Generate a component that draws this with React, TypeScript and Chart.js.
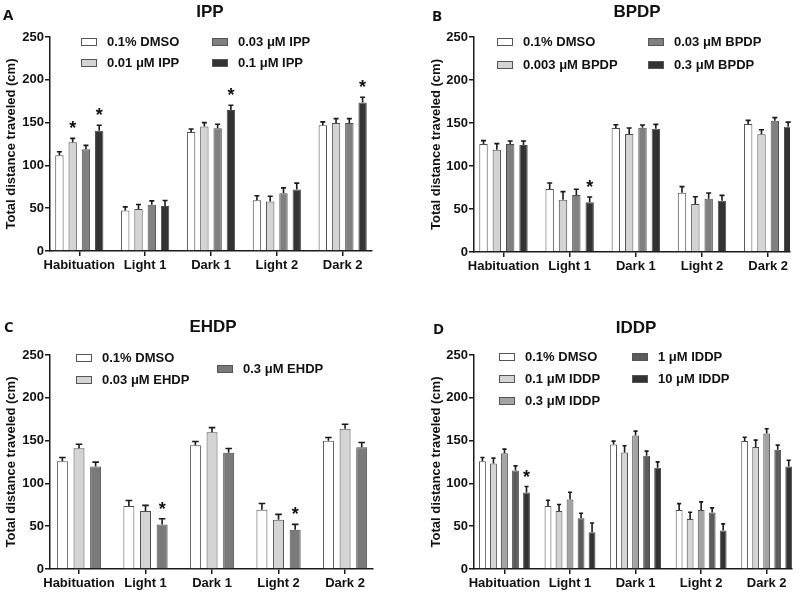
import React, { useEffect, useRef } from "react";
import { Chart, registerables } from "chart.js";

Chart.register(...registerables);

// ---------------- data ----------------
const phases = ["Habituation", "Light 1", "Dark 1", "Light 2", "Dark 2"];
const yTickValues = [0, 50, 100, 150, 200, 250];
const yTitle = "Total distance traveled (cm)";

// Panel A – IPP
const ippNames = ["0.1% DMSO", "0.01 \u03bcM IPP", "0.03 \u03bcM IPP", "0.1 \u03bcM IPP"];
const ippDmso = [112, 47.3, 139, 59.4, 146.9];
const ippDmsoErr = [4, 4.3, 3.6, 5.1, 3.9];
const ippDmsoSig = [0, 0, 0, 0, 0];
const ipp001 = [127, 49.2, 145.3, 57.8, 149.6];
const ipp001Err = [4.6, 5.1, 4.7, 6.2, 5.1];
const ipp001Sig = [1, 0, 0, 0, 0];
const ipp003 = [118.8, 53.9, 143.4, 67.6, 149.6];
const ipp003Err = [4.6, 4.7, 4.6, 6.2, 5.1];
const ipp003Sig = [0, 0, 0, 0, 0];
const ipp01 = [140.6, 52.7, 164.8, 71.9, 173.4];
const ipp01Err = [6.3, 6.3, 5.5, 7.4, 6.3];
const ipp01Sig = [1, 0, 1, 0, 1];

// Panel B – BPDP
const bpdpNames = ["0.1% DMSO", "0.003 \u03bcM BPDP", "0.03 \u03bcM BPDP", "0.3 \u03bcM BPDP"];
const bpdpDmso = [125.6, 73.3, 144.2, 69, 148.8];
const bpdpDmsoErr = [3.9, 6.9, 3.8, 7, 4.2];
const bpdpDmsoSig = [0, 0, 0, 0, 0];
const bpdp0003 = [119, 60.9, 137.2, 55.8, 136.8];
const bpdp0003Err = [7, 9.3, 7, 8.5, 5.4];
const bpdp0003Sig = [0, 0, 0, 0, 0];
const bpdp003 = [125.6, 66.3, 144.6, 62, 152.7];
const bpdp003Err = [3.4, 6.6, 3.1, 6.6, 3.5];
const bpdp003Sig = [0, 0, 0, 0, 0];
const bpdp03 = [124.4, 57.8, 143.4, 59.7, 145.7];
const bpdp03Err = [4.6, 6.2, 5, 6.2, 5.3];
const bpdp03Sig = [0, 1, 0, 0, 0];

// Panel C – EHDP
const ehdpNames = ["0.1% DMSO", "0.03 \u03bcM EHDP", "0.3 \u03bcM EHDP"];
const ehdpDmso = [126, 73.5, 144.6, 69.2, 149.7];
const ehdpDmsoErr = [4.2, 6.6, 4.3, 7.4, 3.9];
const ehdpDmsoSig = [0, 0, 0, 0, 0];
const ehdp003 = [141.1, 67.7, 159.8, 57.5, 163.7];
const ehdp003Err = [4.7, 6.6, 5.4, 6.3, 5.4];
const ehdp003Sig = [0, 0, 0, 0, 0];
const ehdp03 = [119.8, 52.1, 135.7, 45.9, 142.3];
const ehdp03Err = [5, 6.6, 5, 6.2, 5.4];
const ehdp03Sig = [0, 1, 0, 1, 0];

// Panel D – IDDP
const iddpNames = ["0.1% DMSO", "0.1 \u03bcM IDDP", "0.3 \u03bcM IDDP", "1 \u03bcM IDDP", "10 \u03bcM IDDP"];
const iddpDmso = [126, 73.7, 145.5, 69, 149.4];
const iddpDmsoErr = [4.3, 6.6, 3.9, 7.4, 4.6];
const iddpDmsoSig = [0, 0, 0, 0, 0];
const iddp01 = [123.2, 67.9, 136.1, 58.5, 142.4];
const iddp01Err = [6.3, 7.4, 7.8, 7.8, 8.1];
const iddp01Sig = [0, 0, 0, 0, 0];
const iddp03 = [135.3, 81.1, 156, 69, 158.3];
const iddp03Err = [4.7, 8.6, 5.1, 9.4, 5.5];
const iddp03Sig = [0, 0, 0, 0, 0];
const iddp1 = [115, 59.3, 132.2, 65.9, 139.2];
const iddp1Err = [5.5, 5.8, 5.5, 5.5, 5.5];
const iddp1Sig = [0, 0, 0, 0, 0];
const iddp10 = [89.3, 42.9, 118.2, 44.9, 119.7];
const iddp10Err = [7, 10.9, 7, 7.8, 7.4];
const iddp10Sig = [1, 0, 0, 0, 0];

// ---------------- layout / style ----------------
const FONT = '"Liberation Sans", Arial, Helvetica, sans-serif';
const INK = "#111111";

type Series = { name: string; values: number[]; errors: number[]; sig: number[] };
type PanelDef = {
  letter: string;
  title: string;
  series: Series[];
  colors: string[];
  left: number;
  top: number;
  width: number;
  height: number;
  pad: { left: number; top: number; right: number; bottom: number };
  yW: number;
  xH: number;
  offL: number;
  offR: number;
  catPct: number;
  barPct: number;
  legend: number[][];
  titlePos: number[];
  letterPos: number[];
};

const mk = (names: string[], vals: number[][], errs: number[][], sigs: number[][]): Series[] =>
  names.map((n, i) => ({ name: n, values: vals[i], errors: errs[i], sig: sigs[i] }));

const panels: PanelDef[] = [
  {
    letter: "A",
    title: "IPP",
    series: mk(ippNames, [ippDmso, ipp001, ipp003, ipp01], [ippDmsoErr, ipp001Err, ipp003Err, ipp01Err], [ippDmsoSig, ipp001Sig, ipp003Sig, ipp01Sig]),
    colors: ["#ffffff", "#d4d4d4", "#808080", "#333333"],
    left: 0, top: 0, width: 400, height: 290,
    pad: { left: 0, top: 37, right: 28, bottom: 9 },
    yW: 50, xH: 30,
    offL: 0.445, offR: 0.445,
    catPct: 0.806, barPct: 0.63,
    legend: [[81, 42], [81, 63], [212, 42], [212, 63]],
    titlePos: [210, 12],
    letterPos: [3, 16],
  },
  {
    letter: "B",
    title: "BPDP",
    series: mk(bpdpNames, [bpdpDmso, bpdp0003, bpdp003, bpdp03], [bpdpDmsoErr, bpdp0003Err, bpdp003Err, bpdp03Err], [bpdpDmsoSig, bpdp0003Sig, bpdp003Sig, bpdp03Sig]),
    colors: ["#ffffff", "#d4d4d4", "#808080", "#333333"],
    left: 400, top: 0, width: 400, height: 290,
    pad: { left: 25, top: 37, right: 10, bottom: 8 },
    yW: 49, xH: 30,
    offL: 0.446, offR: 0.33,
    catPct: 0.806, barPct: 0.63,
    legend: [[97, 42], [97, 65], [248, 42], [248, 65]],
    titlePos: [237, 12],
    letterPos: [32, 17],
  },
  {
    letter: "C",
    title: "EHDP",
    series: mk(ehdpNames, [ehdpDmso, ehdp003, ehdp03], [ehdpDmsoErr, ehdp003Err, ehdp03Err], [ehdpDmsoSig, ehdp003Sig, ehdp03Sig]),
    colors: ["#ffffff", "#d4d4d4", "#7a7a7a"],
    left: 0, top: 290, width: 400, height: 303,
    pad: { left: 0, top: 65, right: 27, bottom: 0 },
    yW: 50, xH: 24,
    offL: 0.436, offR: 0.42,
    catPct: 0.75, barPct: 0.66,
    legend: [[76, 68], [76, 90], [217, 79]],
    titlePos: [213, 37],
    letterPos: [4, 38],
  },
  {
    letter: "D",
    title: "IDDP",
    series: mk(iddpNames, [iddpDmso, iddp01, iddp03, iddp1, iddp10], [iddpDmsoErr, iddp01Err, iddp03Err, iddp1Err, iddp10Err], [iddpDmsoSig, iddp01Sig, iddp03Sig, iddp1Sig, iddp10Sig]),
    colors: ["#ffffff", "#d4d4d4", "#a3a3a3", "#5c5c5c", "#333333"],
    left: 400, top: 290, width: 400, height: 303,
    pad: { left: 25, top: 65, right: 8, bottom: 0 },
    yW: 49, xH: 24,
    offL: 0.465, offR: 0.386,
    catPct: 0.84, barPct: 0.62,
    legend: [[99, 67], [99, 89], [99, 111], [232, 67], [232, 89]],
    titlePos: [236, 38],
    letterPos: [33, 40],
  },
];

function Panel({ def }: { def: PanelDef }) {
  const ref = useRef<HTMLCanvasElement | null>(null);

  useEffect(() => {
    if (!ref.current) return;
    const extras = {
      id: "panelExtras",
      afterDatasetsDraw(chart: any) {
        const ctx = chart.ctx;
        const ys = chart.scales.y;
        chart.data.datasets.forEach((ds: any, i: number) => {
          const meta = chart.getDatasetMeta(i);
          meta.data.forEach((el: any, j: number) => {
            const v = ds.data[j];
            const e = ds.errors[j];
            const yTop = ys.getPixelForValue(v + e);
            const cap = Math.max(4, el.width * 0.6);
            ctx.save();
            ctx.strokeStyle = "#1a1a1a";
            ctx.lineWidth = 1.6;
            ctx.beginPath();
            ctx.moveTo(el.x, el.y);
            ctx.lineTo(el.x, yTop);
            ctx.moveTo(el.x - cap / 2, yTop);
            ctx.lineTo(el.x + cap / 2, yTop);
            ctx.stroke();
            if (ds.sig[j]) {
              ctx.fillStyle = INK;
              ctx.font = `bold 18px ${FONT}`;
              ctx.textAlign = "center";
              ctx.textBaseline = "alphabetic";
              ctx.fillText("*", el.x, yTop - 4);
            }
            ctx.restore();
          });
        });
      },
      afterDraw(chart: any) {
        const ctx = chart.ctx;
        ctx.save();
        // legend
        chart.data.datasets.forEach((ds: any, i: number) => {
          const pos = def.legend[i];
          if (!pos) return;
          const bx = pos[0];
          const by = pos[1];
          ctx.fillStyle = ds.backgroundColor;
          ctx.fillRect(bx, by - 4, 16, 8);
          ctx.strokeStyle = "#555555";
          ctx.lineWidth = 1;
          ctx.strokeRect(bx + 0.5, by - 3.5, 15, 7);
          ctx.fillStyle = INK;
          ctx.font = `bold 13px ${FONT}`;
          ctx.textAlign = "left";
          ctx.textBaseline = "middle";
          ctx.fillText(ds.label, bx + 26, by + 0.5);
        });
        // title
        ctx.fillStyle = INK;
        ctx.font = `bold 17px ${FONT}`;
        ctx.textAlign = "center";
        ctx.textBaseline = "middle";
        ctx.fillText(def.title, def.titlePos[0], def.titlePos[1]);
        // panel letter
        ctx.font = `bold 15px "Open Sans", ${FONT}`;
        ctx.textAlign = "left";
        ctx.fillText(def.letter, def.letterPos[0], def.letterPos[1]);
        ctx.restore();
      },
    };

    const chart = new Chart(ref.current, {
      type: "bar",
      data: {
        labels: phases,
        datasets: def.series.map((s, i) => ({
          label: s.name,
          data: s.values,
          errors: s.errors,
          sig: s.sig,
          backgroundColor: def.colors[i],
          borderColor: "#4d4d4d",
          borderWidth: 1,
          categoryPercentage: def.catPct,
          barPercentage: def.barPct,
        })) as any,
      },
      options: {
        responsive: false,
        animation: false,
        devicePixelRatio: 1,
        events: [],
        layout: { padding: def.pad },
        plugins: {
          legend: { display: false },
          title: { display: false },
          tooltip: { enabled: false },
        },
        scales: {
          x: {
            z: 1,
            offset: true,
            ticks: {
              color: INK,
              font: { family: FONT, size: 13, weight: "bold" },
              padding: 2,
              autoSkip: false,
              maxRotation: 0,
            },
            grid: {
              display: true,
              drawOnChartArea: false,
              drawTicks: true,
              tickLength: 5,
              offset: false,
              color: "#1a1a1a",
              lineWidth: 1.5,
            },
            border: { display: true, color: "#1a1a1a", width: 1.5 },
            afterBuildTicks: (s: any) => {
              s._startValue = -def.offL;
              s._valueRange = phases.length - 1 + def.offL + def.offR;
            },
            afterFit: (s: any) => {
              s.height = def.xH;
            },
          },
          y: {
            z: 1,
            min: yTickValues[0],
            max: yTickValues[yTickValues.length - 1],
            afterBuildTicks: (s: any) => {
              s.ticks = yTickValues.map((v) => ({ value: v }));
            },
            ticks: {
              color: INK,
              font: { family: FONT, size: 13, weight: "bold" },
              padding: 1,
            },
            grid: {
              display: true,
              drawOnChartArea: false,
              drawTicks: true,
              tickLength: 5,
              color: "#1a1a1a",
              lineWidth: 1.5,
            },
            border: { display: true, color: "#1a1a1a", width: 1.5 },
            title: {
              display: true,
              text: yTitle,
              color: INK,
              font: { family: FONT, size: 13, weight: "bold" },
              padding: { top: 4, bottom: 4 },
            },
            afterFit: (s: any) => {
              s.width = def.yW;
            },
          },
        },
      } as any,
      plugins: [extras as any],
    });
    return () => chart.destroy();
  }, [def]);

  return (
    <canvas
      ref={ref}
      width={def.width}
      height={def.height}
      style={{ position: "absolute", left: def.left, top: def.top, width: def.width, height: def.height }}
    />
  );
}

export default function App() {
  return (
    <div style={{ position: "fixed", left: 0, top: 0, width: 800, height: 593, background: "#ffffff", overflow: "hidden" }}>
      {panels.map((p) => (
        <Panel key={p.letter} def={p} />
      ))}
    </div>
  );
}
